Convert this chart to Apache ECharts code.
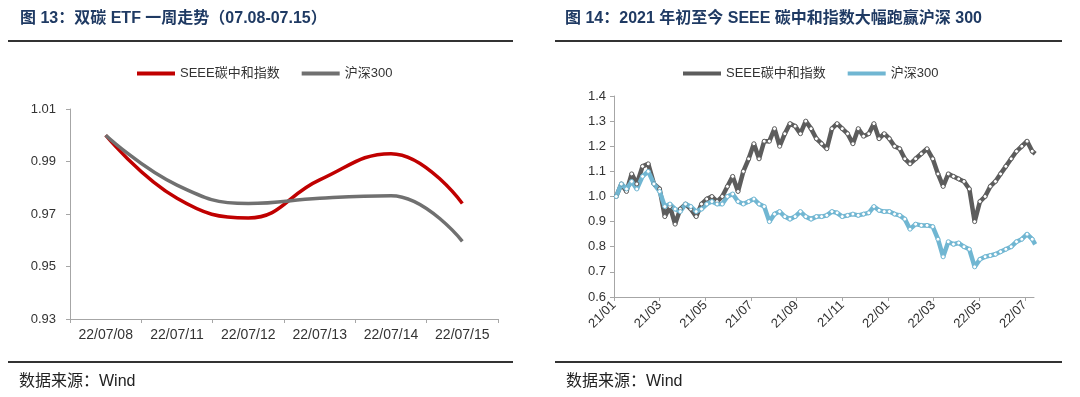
<!DOCTYPE html>
<html>
<head>
<meta charset="utf-8">
<script src="https://cdn.jsdelivr.net/npm/echarts@6/dist/echarts.min.js"></script>
<style>
html, body { margin: 0; padding: 0; background: #fff; }
#main { width: 1080px; height: 397px; }
</style>
</head>
<body>
<div id="main"></div>
<script>
// 图13 双碳ETF一周走势
const weekDays = ['22/07/08', '22/07/11', '22/07/12', '22/07/13', '22/07/14', '22/07/15'];
const weekSeee = [1.000, 0.976, 0.9685, 0.983, 0.993, 0.974];
const weekHs300 = [1.000, 0.981, 0.974, 0.976, 0.977, 0.9596];

// 图14 2021年初至今（周度读数）
const dates = [
    '2021-01-04', '2021-01-11', '2021-01-18', '2021-01-25', '2021-02-01', '2021-02-08', '2021-02-15', '2021-02-22',
    '2021-03-01', '2021-03-08', '2021-03-15', '2021-03-22', '2021-03-29', '2021-04-05', '2021-04-12', '2021-04-19',
    '2021-04-26', '2021-05-03', '2021-05-10', '2021-05-17', '2021-05-24', '2021-05-31', '2021-06-07', '2021-06-14',
    '2021-06-21', '2021-06-28', '2021-07-05', '2021-07-12', '2021-07-19', '2021-07-26', '2021-08-02', '2021-08-09',
    '2021-08-16', '2021-08-23', '2021-08-30', '2021-09-06', '2021-09-13', '2021-09-20', '2021-09-27', '2021-10-04',
    '2021-10-11', '2021-10-18', '2021-10-25', '2021-11-01', '2021-11-08', '2021-11-15', '2021-11-22', '2021-11-29',
    '2021-12-06', '2021-12-13', '2021-12-20', '2021-12-27', '2022-01-03', '2022-01-10', '2022-01-17', '2022-01-24',
    '2022-01-31', '2022-02-07', '2022-02-14', '2022-02-21', '2022-02-28', '2022-03-07', '2022-03-14', '2022-03-21',
    '2022-03-28', '2022-04-04', '2022-04-11', '2022-04-18', '2022-04-25', '2022-05-02', '2022-05-09', '2022-05-16',
    '2022-05-23', '2022-05-30', '2022-06-06', '2022-06-13', '2022-06-20', '2022-06-27', '2022-07-04', '2022-07-11',
    '2022-07-15'
];
const seee = [
    1.00, 1.05, 1.02, 1.09, 1.05, 1.12, 1.13, 1.05,
    1.03, 0.92, 0.96, 0.89, 0.95, 0.97, 0.95, 0.92,
    0.97, 0.99, 1.00, 0.98, 1.00, 1.04, 1.08, 1.02,
    1.10, 1.15, 1.21, 1.15, 1.22, 1.22, 1.27, 1.20,
    1.25, 1.29, 1.28, 1.25, 1.30, 1.27, 1.23, 1.21,
    1.19, 1.27, 1.29, 1.27, 1.25, 1.21, 1.27, 1.24,
    1.25, 1.29, 1.23, 1.25, 1.23, 1.20, 1.19, 1.15,
    1.13, 1.15, 1.17, 1.19, 1.15, 1.09, 1.04, 1.09,
    1.08, 1.07, 1.06, 1.03, 0.90, 0.98, 1.00, 1.04,
    1.06, 1.09, 1.12, 1.15, 1.18, 1.20, 1.22, 1.18,
    1.17
];
const hs300 = [
    1.00, 1.05, 1.03, 1.06, 1.03, 1.08, 1.10, 1.05,
    1.02, 0.96, 0.97, 0.95, 0.94, 0.97, 0.96, 0.94,
    0.95, 0.97, 0.98, 0.97, 0.97, 1.00, 1.01, 0.98,
    0.97, 0.98, 0.99, 0.97, 0.96, 0.90, 0.93, 0.94,
    0.92, 0.91, 0.92, 0.94, 0.92, 0.91, 0.92, 0.92,
    0.925, 0.94, 0.935, 0.92, 0.925, 0.93, 0.925, 0.93,
    0.935, 0.96, 0.945, 0.94, 0.94, 0.93, 0.925, 0.91,
    0.87, 0.89, 0.885, 0.885, 0.88, 0.83, 0.76, 0.82,
    0.81, 0.815, 0.80, 0.79, 0.72, 0.75, 0.76, 0.765,
    0.77, 0.78, 0.79, 0.80, 0.82, 0.83, 0.85, 0.83,
    0.81
];

const FONT = '"Liberation Sans", "Noto Sans CJK SC", sans-serif';
const TITLE_COLOR = '#1f3a63';

// 日期 -> 自2021年1月起的月份位置
const monthPos = (s) => {
    const [y, m, d] = s.split('-').map(Number);
    const days = new Date(y, m, 0).getDate();
    return (y - 2021) * 12 + (m - 1) + (d - 1) / days;
};
const pairs = (vals) => vals.map((v, i) => [monthPos(dates[i]), v]);

const chart = echarts.init(document.getElementById('main'));

const axisLineStyle = { lineStyle: { color: '#a6a6a6', width: 1 } };
const labelStyle = { color: '#333', fontFamily: FONT, fontSize: 13 };

const option = {
    animation: false,
    title: [
        {
            text: '图 13：双碳 ETF 一周走势（07.08-07.15）',
            left: 20, top: 11, padding: 0,
            textStyle: { color: TITLE_COLOR, fontSize: 16, fontWeight: 'bold', fontFamily: FONT }
        },
        {
            text: '图 14：2021 年初至今 SEEE 碳中和指数大幅跑赢沪深 300',
            left: 565, top: 11, padding: 0,
            textStyle: { color: TITLE_COLOR, fontSize: 16, fontWeight: 'bold', fontFamily: FONT }
        }
    ],
    legend: [
        {
            left: 137, top: 67, padding: 0,
            icon: 'rect', itemWidth: 38, itemHeight: 4, itemGap: 22,
            textStyle: { color: '#333', fontSize: 13, fontFamily: FONT },
            data: [
                { name: 'SEEE碳中和指数', itemStyle: { color: '#c00000' } },
                { name: '沪深300', itemStyle: { color: '#707070' } }
            ]
        },
        {
            left: 683, top: 67, padding: 0,
            icon: 'rect', itemWidth: 38, itemHeight: 4, itemGap: 22,
            textStyle: { color: '#333', fontSize: 13, fontFamily: FONT },
            data: [
                { name: 'SEEE碳中和指数', itemStyle: { color: '#5c5c5c' } },
                { name: '沪深300', itemStyle: { color: '#70b6d2' } }
            ]
        }
    ],
    grid: [
        { left: 70, top: 109, width: 428, height: 210 },
        { left: 614, top: 96, width: 420, height: 201 }
    ],
    xAxis: [
        {
            gridIndex: 0, type: 'category', data: weekDays, boundaryGap: true,
            axisLine: axisLineStyle,
            axisTick: { show: true, length: 4, lineStyle: { color: '#a6a6a6' } },
            axisLabel: Object.assign({}, labelStyle, { fontSize: 14, margin: 9 })
        },
        {
            gridIndex: 1, type: 'value', min: 0, max: 18.4, interval: 2,
            axisLine: axisLineStyle,
            axisTick: { show: true, length: 4, lineStyle: { color: '#a6a6a6' } },
            splitLine: { show: false },
            axisLabel: Object.assign({}, labelStyle, {
                rotate: 45, margin: 6, showMaxLabel: false,
                formatter: (v) => {
                    if (Math.abs(v - Math.round(v)) > 1e-6) return '';
                    const y = 21 + Math.floor(v / 12);
                    const m = (v % 12) + 1;
                    return y + '/' + (m < 10 ? '0' + m : m);
                }
            })
        }
    ],
    yAxis: [
        {
            gridIndex: 0, type: 'value', min: 0.93, max: 1.01, interval: 0.02,
            axisLine: Object.assign({ show: true }, axisLineStyle),
            axisTick: { show: true, length: 4, lineStyle: { color: '#a6a6a6' } },
            splitLine: { show: false },
            axisLabel: Object.assign({}, labelStyle, { margin: 14, formatter: (v) => v.toFixed(2) })
        },
        {
            gridIndex: 1, type: 'value', min: 0.6, max: 1.4, interval: 0.1,
            axisLine: Object.assign({ show: true }, axisLineStyle),
            axisTick: { show: true, length: 4, lineStyle: { color: '#a6a6a6' } },
            splitLine: { show: false },
            axisLabel: Object.assign({}, labelStyle, { margin: 8, formatter: (v) => v.toFixed(1) })
        }
    ],
    series: [
        {
            name: 'SEEE碳中和指数', type: 'line', xAxisIndex: 0, yAxisIndex: 0,
            data: weekSeee, smooth: 0.45, showSymbol: false,
            lineStyle: { color: '#c00000', width: 3.5 }, itemStyle: { color: '#c00000' }
        },
        {
            name: '沪深300', type: 'line', xAxisIndex: 0, yAxisIndex: 0,
            data: weekHs300, smooth: 0.45, showSymbol: false,
            lineStyle: { color: '#707070', width: 3.5 }, itemStyle: { color: '#707070' }
        },
        {
            name: 'SEEE碳中和指数', type: 'line', xAxisIndex: 1, yAxisIndex: 1,
            data: pairs(seee), symbol: 'circle', symbolSize: 4,
            lineStyle: { color: '#5c5c5c', width: 4.5 },
            itemStyle: { color: '#fff', borderColor: '#5c5c5c', borderWidth: 1 }
        },
        {
            name: '沪深300', type: 'line', xAxisIndex: 1, yAxisIndex: 1,
            data: pairs(hs300), symbol: 'circle', symbolSize: 4,
            lineStyle: { color: '#70b6d2', width: 4.5 },
            itemStyle: { color: '#fff', borderColor: '#70b6d2', borderWidth: 1 }
        }
    ],
    graphic: [
        { type: 'line', shape: { x1: 8, y1: 41, x2: 513, y2: 41 }, style: { stroke: '#333', lineWidth: 2 } },
        { type: 'line', shape: { x1: 555, y1: 41, x2: 1062, y2: 41 }, style: { stroke: '#333', lineWidth: 2 } },
        { type: 'line', shape: { x1: 8, y1: 362, x2: 513, y2: 362 }, style: { stroke: '#333', lineWidth: 2 } },
        { type: 'line', shape: { x1: 555, y1: 362, x2: 1062, y2: 362 }, style: { stroke: '#333', lineWidth: 2 } },
        {
            type: 'text', left: 19, top: 374,
            style: { text: '数据来源：Wind', fill: '#222', font: '16px ' + FONT }
        },
        {
            type: 'text', left: 566, top: 374,
            style: { text: '数据来源：Wind', fill: '#222', font: '16px ' + FONT }
        }
    ]
};

chart.setOption(option);
</script>
</body>
</html>
